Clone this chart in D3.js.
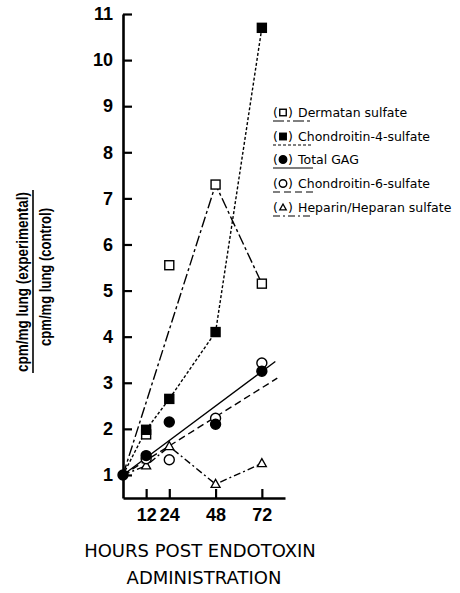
<!DOCTYPE html>
<html><head><meta charset="utf-8">
<script src="https://cdn.jsdelivr.net/npm/d3@7"></script>
<style>body{margin:0;background:#fff}svg{display:block}</style>
</head><body>
<script>
const hours = [0, 12, 24, 48, 72];
const dermatan = [1, 1.88, 5.55, 7.3, 5.15];
const c4s = [1, 1.98, 2.65, 4.1, 10.7];
const totalGAG = [1, 1.42, 2.15, 2.1, 3.25];
const c6s = [1, 1.35, 1.33, 2.23, 3.43];
const heparin = [1, 1.2, 1.62, 0.8, 1.25];
const dermatanLineIdx = [0, 3, 4];
const gagFitHours = [0, 79];
const gagFitValues = [1, 3.46];
const c6sFitHours = [0, 80];
const c6sFitValues = [1, 3.1];
const yTicks = [1,2,3,4,5,6,7,8,9,10,11];
const xTicks = [12, 24, 48, 72];
const legendLabels = ["Dermatan sulfate","Chondroitin-4-sulfate","Total GAG","Chondroitin-6-sulfate","Heparin/Heparan sulfate"];

const W = 460, H = 593;
const svg = d3.select("body").append("svg").attr("width", W).attr("height", H);
const x = d3.scaleLinear().domain([0, 84]).range([123, 285]);
const y = d3.scaleLinear().domain([0.5, 11]).range([498, 14]);

const FONT = "DejaVu Sans, sans-serif";
const NFONT = "Liberation Sans, Arial, sans-serif";

// axes
const yAxis = d3.axisLeft(y).tickValues(yTicks).tickSize(-9).tickSizeOuter(0).tickPadding(10).tickFormat(d3.format("d"));
const gy = svg.append("g").attr("transform", `translate(${x(0)},0)`).call(yAxis);
const xAxis = d3.axisBottom(x).tickValues(xTicks).tickSize(-9).tickSizeOuter(0).tickPadding(10).tickFormat(d3.format("d"));
const gx = svg.append("g").attr("transform", `translate(0,${y(0.5)})`).call(xAxis);
[gy, gx].forEach(g => {
  g.select(".domain").attr("stroke", "#000").attr("stroke-width", 2.6);
  g.selectAll(".tick line").attr("stroke", "#000").attr("stroke-width", 2.2);
  g.selectAll(".tick text").attr("fill", "#000").style("font-family", NFONT).style("font-weight", "bold").style("font-size", "18px");
});
gx.selectAll(".tick text").attr("dy", "0.71em");

// series definitions
const series = [
  {vals: dermatan, dash: "11,3,3,3", marker: "square", fill: "#fff"},
  {vals: c4s, dash: "3,2", marker: "square", fill: "#000"},
  {vals: totalGAG, dash: null, marker: "circle", fill: "#000"},
  {vals: c6s, dash: "7,4", marker: "circle", fill: "#fff"},
  {vals: heparin, dash: "7,3,2,3", marker: "triangle", fill: "#fff"}
];

const line = d3.line().x(d => x(d[0])).y(d => y(d[1]));
const plot = svg.append("g");
function path(pts, dash) {
  plot.append("path").attr("d", line(pts)).attr("fill", "none").attr("stroke", "#000")
    .attr("stroke-width", 1.4).attr("stroke-dasharray", dash);
}
path(dermatanLineIdx.map(i => [hours[i], dermatan[i]]), series[0].dash);
path(hours.map((h, i) => [h, c4s[i]]), series[1].dash);
path(gagFitHours.map((h, i) => [h, gagFitValues[i]]), null);
path(c6sFitHours.map((h, i) => [h, c6sFitValues[i]]), series[3].dash);
path(hours.map((h, i) => [h, heparin[i]]), series[4].dash);

function marker(g, type, cx, cy, fill, s) {
  if (type === "square") {
    g.append("rect").attr("x", cx - s/2).attr("y", cy - s/2).attr("width", s).attr("height", s)
      .attr("fill", fill).attr("stroke", "#000").attr("stroke-width", 1.4);
  } else if (type === "circle") {
    g.append("circle").attr("cx", cx).attr("cy", cy).attr("r", s/2 + 0.5)
      .attr("fill", fill).attr("stroke", "#000").attr("stroke-width", 1.4);
  } else {
    const h = s * 0.9;
    g.append("path").attr("d", `M${cx},${cy - h*0.6}L${cx + s/2},${cy + h*0.4}L${cx - s/2},${cy + h*0.4}Z`)
      .attr("fill", fill).attr("stroke", "#000").attr("stroke-width", 1.3);
  }
}
const order = [4, 3, 0, 1, 2];
order.forEach(si => {
  const s = series[si];
  hours.forEach((h, i) => {
    if (h === 0) return;
    marker(plot, s.marker, x(h), y(s.vals[i]), s.fill, 9);
  });
});
marker(plot, "circle", x(0), y(1), "#000", 9);

// legend
const lg = svg.append("g");
const rowY = [117, 141, 164, 188, 212];
legendLabels.forEach((lab, i) => {
  const s = series[i];
  const by = rowY[i];
  lg.append("text").attr("x", 273).attr("y", by).text("(").style("font-family", FONT).style("font-size", "12.5px");
  marker(lg, s.marker, 283, by - 4.5, s.fill, 6.5);
  lg.append("text").attr("x", 288).attr("y", by).text(")").style("font-family", FONT).style("font-size", "12.5px");
  lg.append("text").attr("x", 298).attr("y", by).text(lab).style("font-family", FONT).style("font-size", "12.5px");
  lg.append("line").attr("x1", 273).attr("x2", 313).attr("y1", by + 4).attr("y2", by + 4)
    .attr("stroke", "#000").attr("stroke-width", 1.2).attr("stroke-dasharray", s.dash);
});

// y label
const yl = svg.append("g");
yl.append("text").attr("transform", "translate(28,282) rotate(-90)").attr("text-anchor", "middle")
  .attr("textLength", 180).attr("lengthAdjust", "spacingAndGlyphs")
  .text("cpm/mg lung (experimental)").style("font-family", NFONT).style("font-weight", "bold").style("font-size", "16px");
yl.append("line").attr("x1", 33).attr("x2", 33).attr("y1", 190).attr("y2", 373).attr("stroke", "#000").attr("stroke-width", 1.6);
yl.append("text").attr("transform", "translate(51,277) rotate(-90)").attr("text-anchor", "middle")
  .attr("textLength", 138).attr("lengthAdjust", "spacingAndGlyphs")
  .text("cpm/mg lung (control)").style("font-family", NFONT).style("font-weight", "bold").style("font-size", "16px");

// x label
svg.append("text").attr("x", 200).attr("y", 557).attr("text-anchor", "middle").text("HOURS POST ENDOTOXIN")
  .style("font-family", FONT).style("font-size", "18px");
svg.append("text").attr("x", 204).attr("y", 584).attr("text-anchor", "middle").text("ADMINISTRATION")
  .style("font-family", FONT).style("font-size", "18px");
</script>
</body></html>
